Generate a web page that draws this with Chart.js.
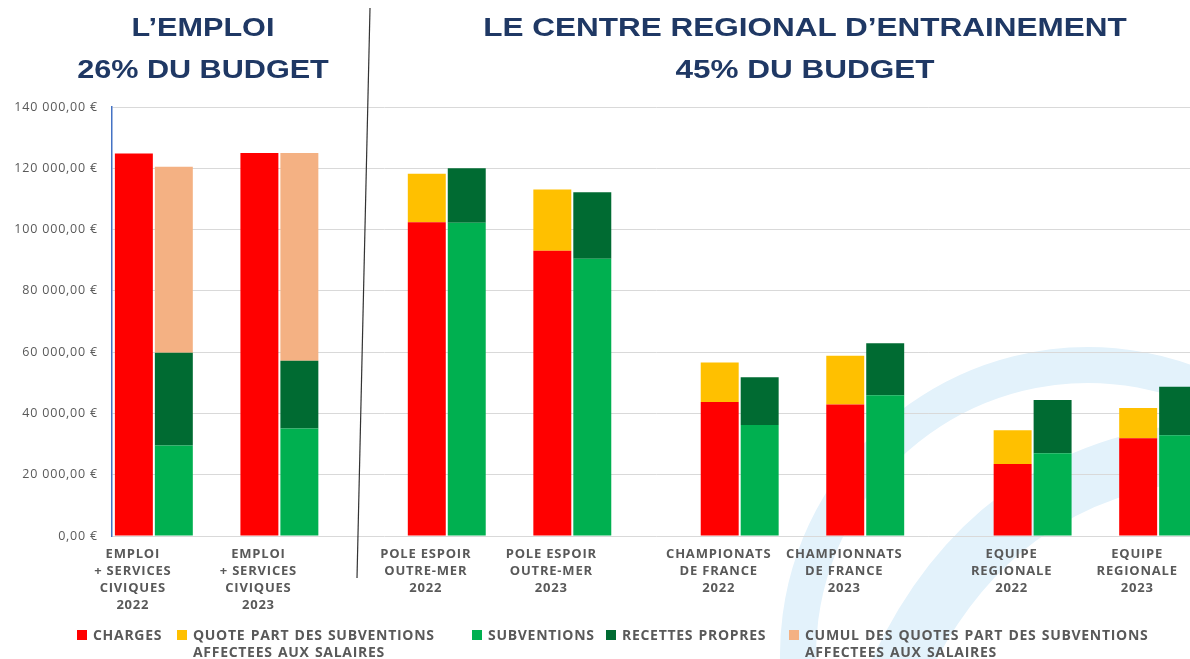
<!DOCTYPE html>
<html lang="fr">
<head>
<meta charset="utf-8">
<title>Budget - emploi et centre regional d'entrainement</title>
<script src="https://cdn.jsdelivr.net/npm/chart.js@4.4.0/dist/chart.umd.min.js"></script>
<style>
  html, body { margin: 0; padding: 0; background: #fff; }
  body { width: 1190px; height: 659px; overflow: hidden; position: relative; }
  #chart { position: absolute; left: 0; top: 0; }
  .title {
    position: absolute; top: 7px; color: #1f3864; text-align: center;
    font: bold 25.5px 'Liberation Sans', Arial, sans-serif; line-height: 41.5px;
    transform: scaleX(1.2); white-space: nowrap;
  }
  #legend { position: absolute; left: 0; top: 626px; width: 1190px; height: 34px; }
  .item {
    position: absolute; top: 0; display: flex; align-items: flex-start;
    font: 700 14px 'Open Sans', sans-serif; letter-spacing: 0.7px; word-spacing: 1px;
    color: #595959; line-height: 17px; white-space: pre;
  }
  .box { width: 10px; height: 10px; margin: 3.5px 6px 0 0; flex: none; }
</style>
</head>
<body>
<canvas id="chart" width="1215" height="659"></canvas>
<div class="title" style="left:53px; width:300px;">L’EMPLOI<br>26% DU BUDGET</div>
<div class="title" style="left:455px; width:700px; transform: scaleX(1.235);">LE CENTRE REGIONAL D’ENTRAINEMENT<br>45% DU BUDGET</div>
<div id="legend"></div>
<script>
// categories (one per bar pair)
const categories = [
    ['EMPLOI', '+ SERVICES', 'CIVIQUES', '2022'],
    ['EMPLOI', '+ SERVICES', 'CIVIQUES', '2023'],
    ['POLE ESPOIR', 'OUTRE-MER', '2022'],
    ['POLE ESPOIR', 'OUTRE-MER', '2023'],
    ['CHAMPIONATS', 'DE FRANCE', '2022'],
    ['CHAMPIONNATS', 'DE FRANCE', '2023'],
    ['EQUIPE', 'REGIONALE', '2022'],
    ['EQUIPE', 'REGIONALE', '2023']
];

// left stack
const charges = [124800, 125000, 102400, 93100, 43700, 42900, 23500, 31900];
const quotePart = [null, null, 15800, 20000, 12900, 15900, 11000, 9900];
// right stack
const subventions = [29500, 35100, 102200, 90500, 36200, 45900, 27000, 32900];
const recettesPropres = [30300, 22100, 17800, 21700, 15600, 17000, 17400, 15800];
const cumulQuotePart = [60700, 67800, null, null, null, null, null, null];

const yMin = 0;
const yMax = 140000;
const yStep = 20000;

const seriesNames = [
    'CHARGES',
    'QUOTE PART DES SUBVENTIONS\nAFFECTEES AUX SALAIRES',
    'SUBVENTIONS',
    'RECETTES PROPRES',
    'CUMUL DES QUOTES PART DES SUBVENTIONS\nAFFECTEES AUX SALAIRES'
];
const seriesColors = ['#ff0000', '#ffc000', '#00b050', '#006b32', '#f4b183'];

// empty slots on the category axis, so the groups get wider gaps
const slotStep = [1, 3, 4, 3, 4, 3, 4, 3];
const slotCount = 27;
const slotIndex = [];
slotStep.reduce((pos, step) => { slotIndex.push(pos + step); return pos + step; }, 0);

function spread(values, empty) {
    const out = new Array(slotCount).fill(empty);
    slotIndex.forEach((s, i) => { out[s] = values[i]; });
    return out;
}

function euro(v) {
    return v.toFixed(2).replace('.', ',').replace(/\B(?=(\d{3})+(?!\d))/g, ' ') + ' €';
}

const barStyle = { categoryPercentage: 1.91, barPercentage: 0.95, borderWidth: 0 };

const datasets = [
    { data: charges, stack: 'charges' },
    { data: quotePart, stack: 'charges' },
    { data: subventions, stack: 'produits' },
    { data: recettesPropres, stack: 'produits' },
    { data: cumulQuotePart, stack: 'produits' }
].map((d, i) => Object.assign({
    label: seriesNames[i].replace('\n', ' '),
    data: spread(d.data, null),
    stack: d.stack,
    backgroundColor: seriesColors[i]
}, barStyle));

const rad = d => d * Math.PI / 180;

// watermark behind, slanted separator on top
const decorations = {
    id: 'decorations',
    beforeDraw(chart) {
        const ctx = chart.ctx;
        ctx.save();
        ctx.strokeStyle = '#e3f2fb';
        ctx.lineWidth = 36;
        ctx.beginPath();
        ctx.arc(1088, 655, 290, rad(166), rad(305));
        ctx.stroke();
        ctx.lineWidth = 58;
        ctx.beginPath();
        ctx.moveTo(890, 690);
        ctx.quadraticCurveTo(985, 465, 1215, 450);
        ctx.stroke();
        ctx.restore();
        ctx.letterSpacing = '0.8px';
    },
    afterDraw(chart) {
        const ctx = chart.ctx;
        ctx.letterSpacing = '0px';
        ctx.save();
        ctx.strokeStyle = '#333';
        ctx.lineWidth = 1.2;
        ctx.beginPath();
        ctx.moveTo(370, 8);
        ctx.lineTo(357, 578);
        ctx.stroke();
        ctx.restore();
    }
};

const chart = new Chart(document.getElementById('chart'), {
    type: 'bar',
    data: {
        labels: spread(categories, ''),
        datasets: datasets
    },
    options: {
        responsive: false,
        animation: false,
        layout: { padding: { top: 107, right: 15, bottom: 0, left: 0 } },
        plugins: {
            legend: { display: false },
            tooltip: { enabled: false }
        },
        scales: {
            x: {
                offset: false,
                grid: { display: false, drawTicks: false },
                border: { display: false },
                ticks: {
                    autoSkip: false,
                    maxRotation: 0,
                    minRotation: 0,
                    padding: 10,
                    labelOffset: -21,
                    color: '#595959',
                    font: { family: 'Open Sans', weight: 'bold', size: 13, lineHeight: 1.3 }
                },
                afterFit: scale => { scale.height = 123; }
            },
            y: {
                stacked: true,
                min: yMin,
                max: yMax,
                grid: { color: '#d9d9d9', drawTicks: false },
                border: { color: '#4472c4', width: 1.5 },
                ticks: {
                    stepSize: yStep,
                    padding: 14,
                    color: '#595959',
                    font: { family: 'Open Sans', size: 12.5 },
                    callback: v => euro(v)
                },
                afterFit: scale => { scale.width = 112; }
            }
        }
    },
    plugins: [decorations]
});

// legend with two-line labels
const legendX = [77, 177, 472, 606, 789];
const legend = document.getElementById('legend');
seriesNames.forEach((name, i) => {
    const item = document.createElement('div');
    item.className = 'item';
    item.style.left = legendX[i] + 'px';
    const box = document.createElement('span');
    box.className = 'box';
    box.style.background = seriesColors[i];
    const text = document.createElement('span');
    text.textContent = name;
    item.appendChild(box);
    item.appendChild(text);
    legend.appendChild(item);
});
</script>
</body>
</html>
